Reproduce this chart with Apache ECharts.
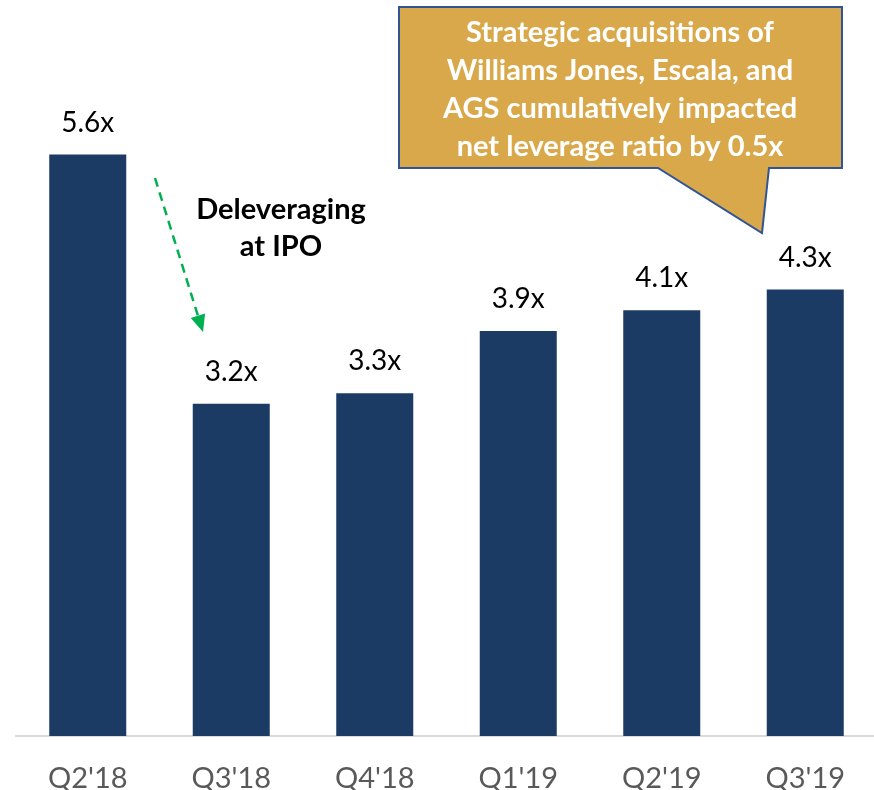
<!DOCTYPE html>
<html>
<head>
<meta charset="utf-8">
<script src="https://cdn.jsdelivr.net/npm/echarts@6/dist/echarts.min.js"></script>
<style>
  html, body { margin: 0; padding: 0; background: #fff; }
  #chart { width: 874px; height: 790px; }
</style>
</head>
<body>
<div id="chart"></div>
<script>
// quarters and net leverage ratio
var quarters = ["Q2'18", "Q3'18", "Q4'18", "Q1'19", "Q2'19", "Q3'19"];
var leverage = [5.6, 3.2, 3.3, 3.9, 4.1, 4.3];

var calloutLines = [
    'Strategic acquisitions of',
    'Williams Jones, Escala, and',
    'AGS cumulatively impacted',
    'net leverage ratio by 0.5x'
];
var noteLines = ['Deleveraging', 'at IPO'];

var FONT = 'Lato, "Open Sans", sans-serif';

function render_chart(divId) {
    var dom = document.getElementById(divId);
    var myChart = echarts.init(dom);

    // arrow head for the green dashed arrow
    var tip = [203, 332], from = [155, 178];
    var dx = tip[0] - from[0], dy = tip[1] - from[1];
    var len = Math.sqrt(dx * dx + dy * dy);
    var ux = dx / len, uy = dy / len;
    var bx = tip[0] - 17 * ux, by = tip[1] - 17 * uy;
    var px = -uy * 7.5, py = ux * 7.5;

    var option = {
        animation: false,
        grid: { left: 16, right: -3, top: 113, bottom: 54, outerBoundsMode: 'none', containLabel: false },
        xAxis: {
            type: 'category',
            data: quarters,
            axisLine: { lineStyle: { color: '#d9d9d9', width: 2 } },
            axisTick: { show: false },
            axisLabel: {
                color: '#595959',
                fontSize: 29,
                fontFamily: FONT,
                margin: 28
            }
        },
        yAxis: {
            type: 'value',
            min: 0,
            max: 6,
            show: false
        },
        series: [
            {
                type: 'bar',
                data: leverage,
                barWidth: 77,
                itemStyle: { color: '#1b3a64' },
                label: {
                    show: true,
                    position: 'top',
                    distance: 18,
                    color: '#000',
                    fontSize: 28,
                    fontFamily: FONT,
                    formatter: function (p) { return p.value.toFixed(1) + 'x'; }
                }
            }
        ],
        graphic: [
            {
                type: 'polygon',
                shape: {
                    points: [[399, 7], [842, 7], [842, 168], [769, 168], [762, 233], [658, 168], [399, 168]]
                },
                style: { fill: '#d9a84a', stroke: '#2f5597', lineWidth: 2 }
            },
            {
                type: 'text',
                x: 620,
                y: 14,
                style: {
                    text: calloutLines.join('\n'),
                    align: 'center',
                    verticalAlign: 'top',
                    fill: '#fff',
                    font: 'bold 29px ' + FONT,
                    lineHeight: 38
                }
            },
            {
                type: 'text',
                x: 281,
                y: 191,
                style: {
                    text: noteLines.join('\n'),
                    align: 'center',
                    verticalAlign: 'top',
                    fill: '#000',
                    font: 'bold 29px ' + FONT,
                    lineHeight: 37
                }
            },
            {
                type: 'line',
                shape: { x1: from[0], y1: from[1], x2: bx, y2: by },
                style: { stroke: '#00b050', lineWidth: 2.5, lineDash: [9, 6] }
            },
            {
                type: 'polygon',
                shape: { points: [tip, [bx + px, by + py], [bx - px, by - py]] },
                style: { fill: '#00b050' }
            }
        ]
    };

    if (option && typeof option === 'object') {
        myChart.setOption(option);
    }
}

render_chart('chart');
</script>
</body>
</html>
